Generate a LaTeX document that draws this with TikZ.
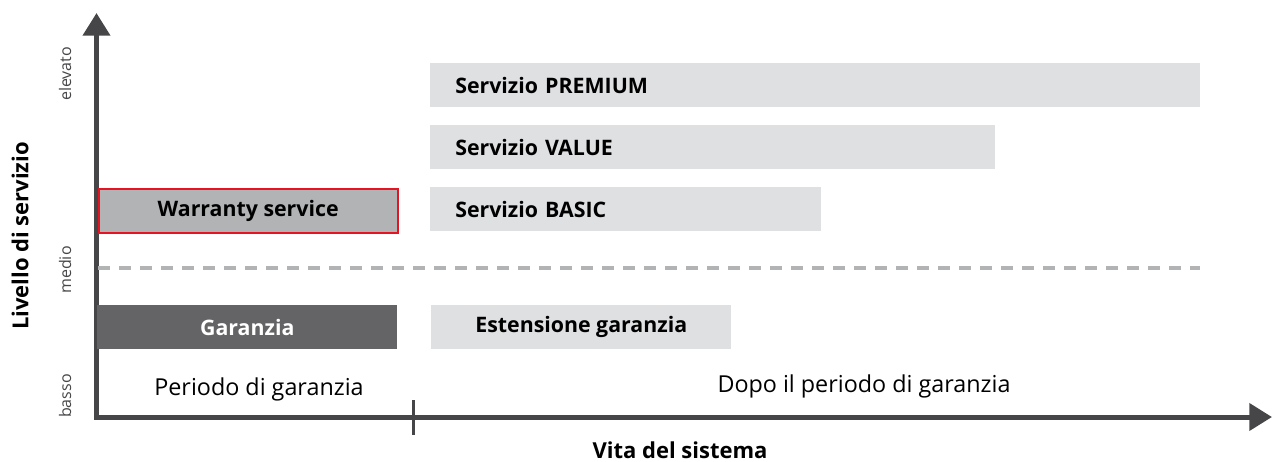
\documentclass[tikz,border=0pt]{standalone}
\usepackage{fontspec}
\setmainfont{Open Sans}
\usepackage{xcolor}
\usetikzlibrary{arrows.meta,positioning}

\definecolor{axisgray}{RGB}{70,70,72}
\definecolor{midgray}{RGB}{177,179,181}
\definecolor{darkbox}{RGB}{100,100,102}
\definecolor{lightbox}{RGB}{223,224,226}
\definecolor{abbred}{RGB}{230,20,35}

\tikzset{
  bar/.style={anchor=north west, inner sep=0pt, minimum height=33pt, font=\fontsize{16}{18}\selectfont\bfseries},
  servicebar/.style={bar, fill=lightbox, inner xsep=18.75pt, align=left},
  levellabel/.style={rotate=90, text=axisgray, font=\fontsize{12}{14}\selectfont},
  periodlabel/.style={font=\fontsize{17.5}{20}\selectfont},
}

\begin{document}
\begin{tikzpicture}[x=0.75pt,y=0.75pt,yscale=-1,xscale=1]
\useasboundingbox (0,0) rectangle (1272,461);

%Axes
\coordinate (origin) at (96.5,417);
\coordinate (ytip) at (96.5,13);
\coordinate (xtip) at (1272,417);
\draw [axisgray, line width=3.75pt, {Triangle[length=17pt,width=20pt]}-{Triangle[length=17pt,width=20pt]}] (ytip) -- (origin) -- (xtip);
%Tick
\coordinate (ticktop) at (413,400);
\coordinate (tickbot) at (413,435);
\draw [axisgray, line width=2.25pt] (ticktop) -- (tickbot);

%Dashed line
\coordinate (midleft) at (98,268);
\coordinate (midright) at (1200,268);
\draw [midgray, line width=3pt, dash pattern=on 9pt off 6.75pt] (midleft) -- (midright);

%Shape: Rectangle
\node [bar, fill=midgray, draw=abbred, line width=1.5pt, minimum width=224.5pt] (warranty) at (97.5,187.5) {Warranty service};
\node [bar, fill=darkbox, text=white, minimum width=225pt] (garanzia) at (97,305) {Garanzia};
\node [bar, fill=lightbox, minimum width=225pt] (estensione) at (431,305) {Estensione garanzia};
\node [servicebar, text width=540pt] (premium) at (430,63) {Servizio PREMIUM};
\node [servicebar, text width=386.25pt] (value) at (430,125) {Servizio VALUE};
\node [servicebar, text width=255.75pt] (basic) at (430,187) {Servizio BASIC};

% Text Node
\node [periodlabel] (periodo) at (259,389) {Periodo di garanzia};
% Text Node
\node [periodlabel] (dopo) at (864,386) {Dopo il periodo di garanzia};
% Text Node
\node [anchor=base, font=\fontsize{16.5}{18}\selectfont\bfseries] (vita) at (680,458) {Vita del sistema};
% Text Node
\node [rotate=90, font=\fontsize{16.5}{18}\selectfont\bfseries] (livello) at (20,236) {Livello di servizio};
% Text Node
\node [levellabel] (elevato) at (65,74) {elevato};
\node [levellabel] (medio) at (65,270) {medio};
\node [levellabel] (basso) at (65,396) {basso};

\end{tikzpicture}
\end{document}
